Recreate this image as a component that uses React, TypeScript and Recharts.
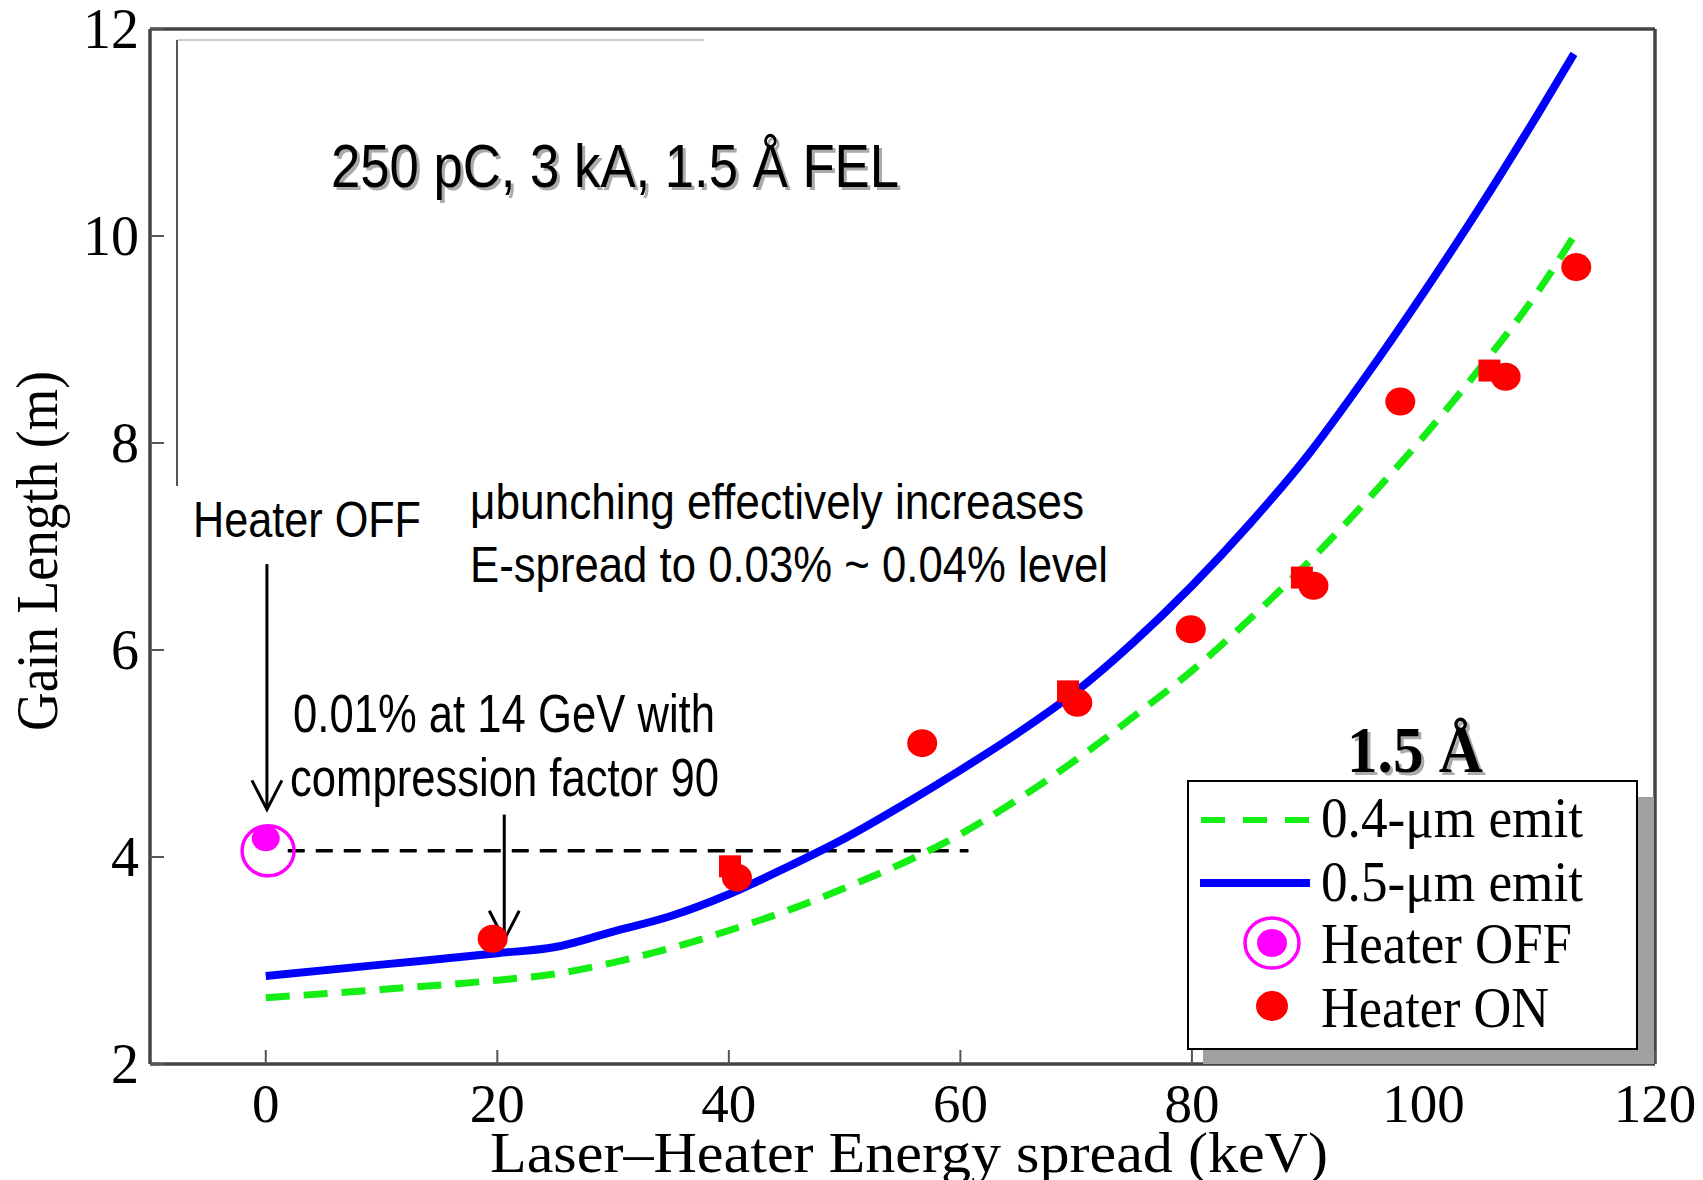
import React from "react";
import {
  ComposedChart,
  XAxis,
  YAxis,
  Line,
  Scatter,
  ReferenceLine,
  Legend,
} from "recharts";

// simulated gain length curves (keV -> m)
const spreadKeV = [0, 10, 20, 25, 30, 35, 40, 45, 50, 55, 60, 65, 70, 75, 80, 85, 90, 95, 100, 105, 110, 113];
const gain04 = [2.64, 2.72, 2.81, 2.87, 2.98, 3.12, 3.29, 3.48, 3.7, 3.94, 4.22, 4.56, 4.94, 5.36, 5.8, 6.3, 6.84, 7.43, 8.06, 8.74, 9.48, 10.0];
const gain05 = [2.85, 2.96, 3.07, 3.13, 3.28, 3.43, 3.64, 3.9, 4.18, 4.5, 4.84, 5.2, 5.6, 6.08, 6.62, 7.22, 7.88, 8.64, 9.45, 10.3, 11.2, 11.76];

// measurements with heater on
const onKeV = [19.6, 40.7, 56.7, 70.1, 79.9, 90.5, 98.0, 107.1, 113.2];
const onGain = [3.21, 3.8, 5.1, 5.49, 6.2, 6.62, 8.4, 8.64, 9.7];
const onSqKeV = [40.1, 69.3, 89.5, 105.7];
const onSqGain = [3.91, 5.6, 6.7, 8.7];

// heater off measurement
const offKeV = [0.2];
const offGain = [4.06];
const offDotKeV = [0];
const offDotGain = [4.18];

const xTicks = [0, 20, 40, 60, 80, 100, 120];
const yTicks = [2, 4, 6, 8, 10, 12];

const offLevel = 4.06;
const offLevelFrom = 1.9;
const offLevelTo = 60.7;
const offArrow = [{ x: 0.1, y: 6.83 }, { x: 0.1, y: 4.46 }];
const compArrow = [{ x: 20.6, y: 4.41 }, { x: 20.6, y: 3.2 }];

const pts = (xs: number[], ys: number[]) => xs.map((x, i) => ({ x, y: ys[i] }));

const curve04 = pts(spreadKeV, gain04);
const curve05 = pts(spreadKeV, gain05);
const heaterOn = pts(onKeV, onGain);
const heaterOnSq = pts(onSqKeV, onSqGain);
const heaterOff = pts(offKeV, offGain);
const heaterOffDot = pts(offDotKeV, offDotGain);

const SERIF = "'Liberation Serif', 'Times New Roman', serif";
const NARROW = "'Liberation Sans Narrow', 'Liberation Sans', Arial, sans-serif";
const GREEN = "#14ee14";
const frame = { stroke: "#444", strokeWidth: 3.5 };
const innerTick = { stroke: "#555", strokeWidth: 2 };

const BottomTick = (p: any) => (
  <g>
    <line x1={p.x} y1={p.y} x2={p.x} y2={p.y - 14} {...innerTick} />
    <text x={p.x} y={p.y + 58} textAnchor="middle" fontFamily={SERIF} fontSize={55} fill="#000">
      {p.payload.value}
    </text>
  </g>
);

const LeftTick = (p: any) => (
  <g>
    <line x1={p.x} y1={p.y} x2={p.x + 14} y2={p.y} {...innerTick} />
    <text x={p.x - 11} y={p.y + 19} textAnchor="end" fontFamily={SERIF} fontSize={56} fill="#000">
      {p.payload.value}
    </text>
  </g>
);

const RedDot = (p: any) => <ellipse cx={p.cx} cy={p.cy} rx={15} ry={14} fill="#ff0000" />;
const RedSquare = (p: any) => <rect x={p.cx - 11} y={p.cy - 11} width={22} height={22} fill="#ff0000" />;
const MagentaRing = (p: any) => (
  <ellipse cx={p.cx} cy={p.cy} rx={26} ry={25} fill="none" stroke="#ff00ff" strokeWidth={3.5} />
);
const MagentaDot = (p: any) => <ellipse cx={p.cx} cy={p.cy} rx={14} ry={13} fill="#ff00ff" />;

const ArrowShape = (p: any) => {
  const { x1, y1, x2, y2 } = p;
  return (
    <g>
      <line x1={x1} y1={y1} x2={x2} y2={y2} stroke="#000" strokeWidth={3} />
      <path
        d={`M${x2 - 15},${y2 - 29} L${x2},${y2} L${x2 + 15},${y2 - 29}`}
        fill="none"
        stroke="#000"
        strokeWidth={3}
      />
    </g>
  );
};

const LegendBox = () => (
  <svg width={470} height={286} style={{ display: "block" }}>
    <rect x={16} y={17} width={451} height={267} fill="#a0a0a0" />
    <rect x={1} y={1} width={449} height={268} fill="#fff" stroke="#000" strokeWidth={2} />
    <line x1={14} y1={40} x2={122} y2={40} stroke={GREEN} strokeWidth={6} strokeDasharray="24 18" />
    <line x1={13} y1={103} x2={123} y2={103} stroke="#0000ff" strokeWidth={8} />
    <ellipse cx={85} cy={163} rx={27} ry={25} fill="none" stroke="#ff00ff" strokeWidth={3.5} />
    <ellipse cx={85} cy={163} rx={15} ry={14} fill="#ff00ff" />
    <ellipse cx={85} cy={226} rx={16} ry={15} fill="#ff0000" />
    <g fontFamily={SERIF} fontSize={56} fill="#000">
      <text x={134} y={57} textLength={262} lengthAdjust="spacingAndGlyphs">0.4-μm emit</text>
      <text x={134} y={121} textLength={262} lengthAdjust="spacingAndGlyphs">0.5-μm emit</text>
      <text x={134} y={183} textLength={251} lengthAdjust="spacingAndGlyphs">Heater OFF</text>
      <text x={134} y={247} textLength={228} lengthAdjust="spacingAndGlyphs">Heater ON</text>
    </g>
  </svg>
);

const Note = ({ x, y, w, size, children }: any) => (
  <text x={x} y={y} fontFamily={NARROW} fontSize={size} fill="#000" textLength={w} lengthAdjust="spacingAndGlyphs">
    {children}
  </text>
);

export default function App() {
  return (
    <div style={{ position: "absolute", left: 0, top: 0, width: 1703, height: 1180, background: "#fff" }}>
      <ComposedChart width={1703} height={1180} margin={{ top: 29, right: 48, bottom: 36, left: 50 }}>
        <XAxis
          dataKey="x"
          type="number"
          domain={[-10, 120]}
          ticks={xTicks}
          height={80}
          tickSize={0}
          tickMargin={0}
          tickLine={false}
          axisLine={frame}
          tick={(p: any) => <BottomTick {...p} />}
          allowDataOverflow
        />
        <XAxis
          xAxisId="top"
          orientation="top"
          type="number"
          domain={[-10, 120]}
          ticks={xTicks}
          height={1}
          mirror
          tick={false}
          tickSize={14}
          tickLine={innerTick}
          axisLine={frame}
          allowDataOverflow
        />
        <YAxis
          type="number"
          domain={[2, 12]}
          ticks={yTicks}
          width={100}
          tickSize={0}
          tickMargin={0}
          tickLine={false}
          axisLine={frame}
          tick={(p: any) => <LeftTick {...p} />}
          allowDataOverflow
        />
        <YAxis
          yAxisId="right"
          orientation="right"
          type="number"
          domain={[2, 12]}
          ticks={yTicks}
          width={1}
          mirror
          tick={false}
          tickSize={14}
          tickLine={innerTick}
          axisLine={frame}
          allowDataOverflow
        />

        <ReferenceLine
          segment={[{ x: offLevelFrom, y: offLevel }, { x: offLevelTo, y: offLevel }]}
          stroke="#000"
          strokeWidth={3.5}
          strokeDasharray="17 11"
        />

        <Line data={curve04} dataKey="y" type="monotone" stroke={GREEN} strokeWidth={7}
          strokeDasharray="24 14" dot={false} activeDot={false} isAnimationActive={false} />
        <Line data={curve05} dataKey="y" type="monotone" stroke="#0000ff" strokeWidth={8}
          dot={false} activeDot={false} isAnimationActive={false} />

        <Scatter data={heaterOnSq} dataKey="y" shape={RedSquare} isAnimationActive={false} />
        <Scatter data={heaterOn} dataKey="y" shape={RedDot} isAnimationActive={false} />
        <Scatter data={heaterOff} dataKey="y" shape={MagentaRing} isAnimationActive={false} />
        <Scatter data={heaterOffDot} dataKey="y" shape={MagentaDot} isAnimationActive={false} />

        <ReferenceLine segment={offArrow} shape={ArrowShape} />
        <ReferenceLine segment={compArrow} shape={ArrowShape} />

        <Legend
          layout="horizontal"
          verticalAlign="middle"
          align="center"
          wrapperStyle={{ left: 1187, top: 780, width: 470, height: 286 }}
          content={() => <LegendBox />}
        />
      </ComposedChart>

      <svg
        width={1703}
        height={1180}
        style={{ position: "absolute", left: 0, top: 0, pointerEvents: "none" }}
      >
        <line x1={177} y1={40} x2={704} y2={40} stroke="#ccc" strokeWidth={2} />
        <line x1={177} y1={40} x2={177} y2={486} stroke="#555" strokeWidth={2} />

        <g transform="translate(3,3)" fill="#aaa">
          <text x={331} y={187} fontFamily={NARROW} fontSize={62} textLength={568} lengthAdjust="spacingAndGlyphs">
            250 pC, 3 kA, 1.5 Å FEL
          </text>
          <text x={1347} y={772} fontFamily={SERIF} fontWeight="bold" fontSize={66} textLength={136} lengthAdjust="spacingAndGlyphs">
            1.5 Å
          </text>
        </g>
        <Note x={331} y={187} w={568} size={62}>250 pC, 3 kA, 1.5 Å FEL</Note>
        <text x={1347} y={772} fontFamily={SERIF} fontWeight="bold" fontSize={66} fill="#000" textLength={136} lengthAdjust="spacingAndGlyphs">
          1.5 Å
        </text>

        <Note x={193} y={537} w={228} size={50}>Heater OFF</Note>
        <Note x={470} y={519} w={614} size={50}>μbunching effectively increases</Note>
        <Note x={470} y={582} w={638} size={50}>E-spread to 0.03% ~ 0.04% level</Note>
        <Note x={293} y={732} w={422} size={54}>0.01% at 14 GeV with</Note>
        <Note x={290} y={796} w={429} size={54}>compression factor 90</Note>

        <text x={490} y={1172} fontFamily={SERIF} fontSize={57} fill="#000" textLength={838} lengthAdjust="spacingAndGlyphs">
          Laser–Heater Energy spread (keV)
        </text>
        <text
          transform="translate(57,551) rotate(-90)"
          textAnchor="middle"
          fontFamily={SERIF}
          fontSize={60}
          fill="#000"
          textLength={360}
          lengthAdjust="spacingAndGlyphs"
        >
          Gain Length (m)
        </text>
      </svg>
    </div>
  );
}
